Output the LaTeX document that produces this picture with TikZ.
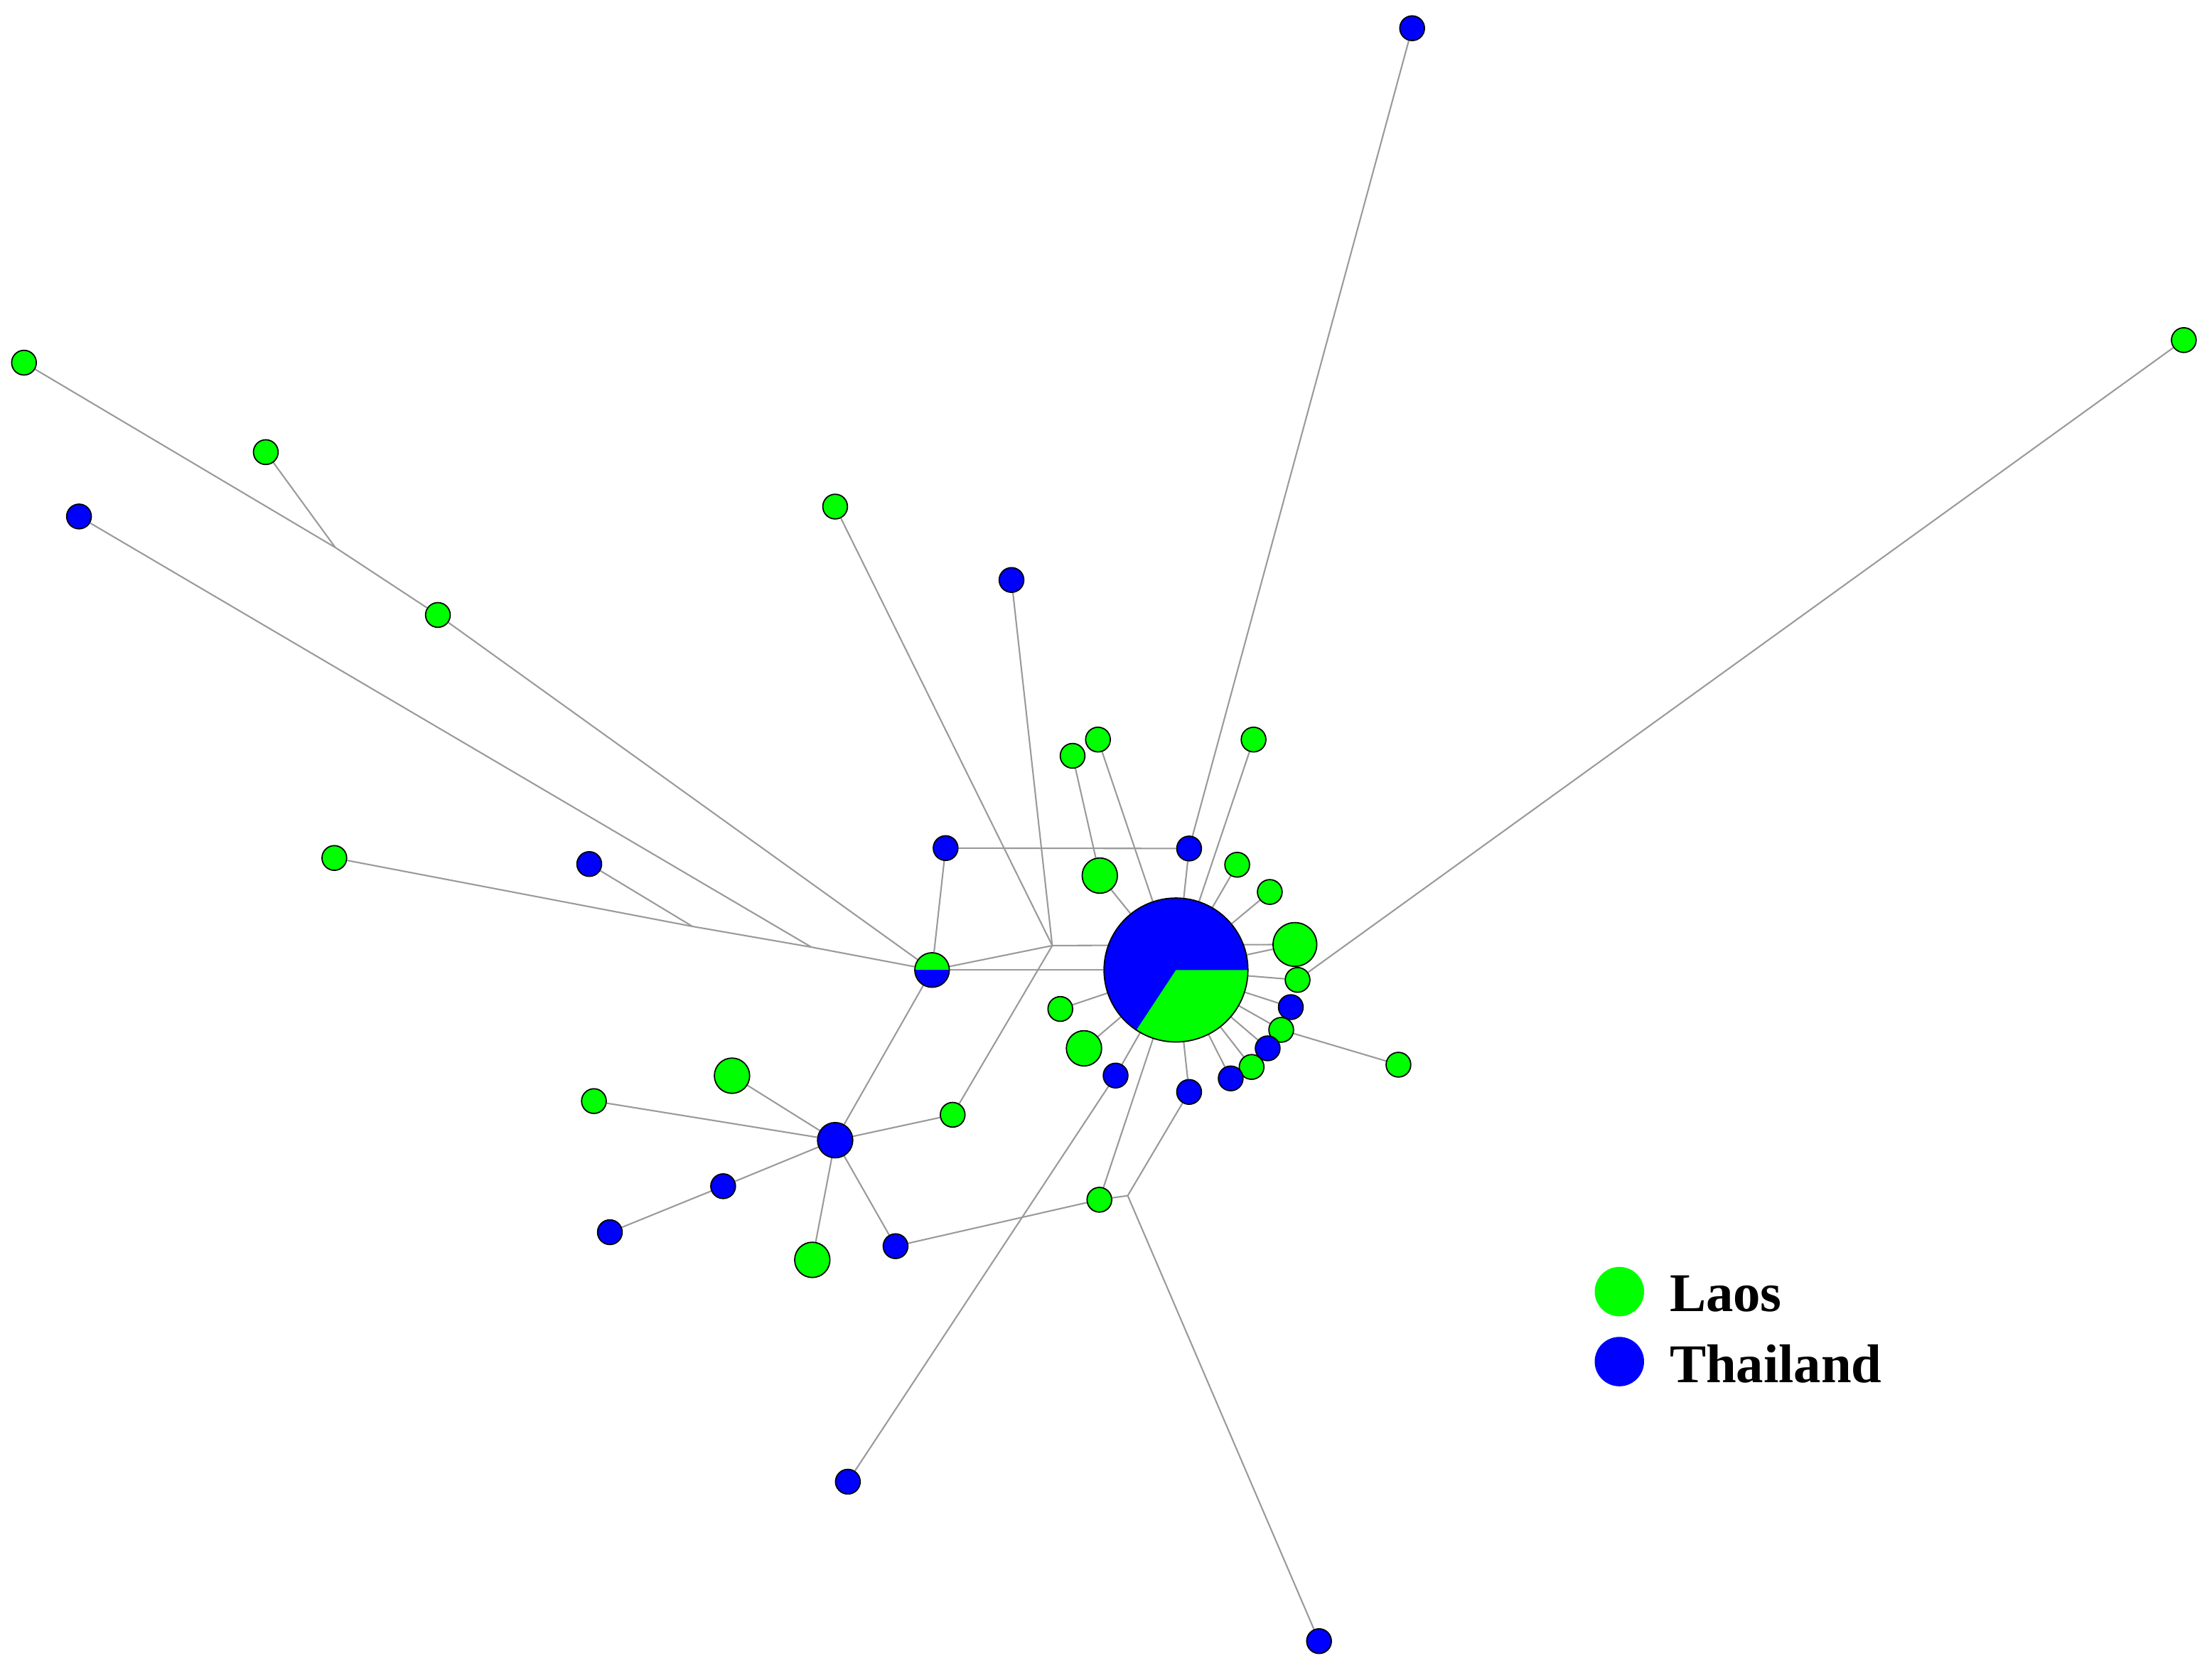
\documentclass[tikz,border=0pt]{standalone}
\usepackage{fontspec}
\setmainfont{Liberation Serif}
\usetikzlibrary{backgrounds}
\definecolor{laos}{HTML}{00FF00}
\definecolor{thai}{HTML}{0000FF}
\definecolor{lnkgray}{HTML}{9A9A9A}
\tikzset{
  hap/.style={circle, draw=black, line width=0.5pt, fill=#1, inner sep=0pt, minimum size=3.5mm},
  hapm/.style={hap=#1, minimum size=5mm},
  lnk/.style={draw=lnkgray, line width=0.6pt},
  key/.style={circle, fill=#1, inner sep=0pt, minimum size=7mm},
  keytxt/.style={anchor=base west, inner sep=0pt, font=\bfseries\fontsize{22}{26}\selectfont},
}

\begin{document}
\begin{tikzpicture}[x=0.2mm, y=-0.2mm]
  \useasboundingbox (0,0) rectangle (1568,1182);
  % central haplotype, shared by both countries
  \node[hap=thai, minimum size=20.4mm, path picture={\fill[laos] (path picture bounding box.center) -- ++(0:11mm) arc[start angle=0, end angle=-123.4, radius=11mm] -- cycle;}] (hub) at (833.6,687.4) {};
  \node[hap=laos, minimum size=4.9mm, path picture={\fill[thai] (path picture bounding box.west) rectangle (path picture bounding box.south east);}] (m29) at (660.7,687.4) {};
  \node[hapm=thai] (t34) at (592,808) {};
  % outer haplotypes
  \node[hap=thai] (t1) at (1001,20) {};
  \node[hap=laos] (l2) at (1548,241) {};
  \node[hap=laos] (l3) at (17,257) {};
  \node[hap=laos] (l4) at (188.4,320.4) {};
  \node[hap=thai] (t5) at (56,366) {};
  \node[hap=laos] (l6) at (310.4,435.8) {};
  \node[hap=laos] (l7) at (592,359) {};
  \node[hap=thai] (t8) at (717,411) {};
  \node[hap=laos] (l9) at (778.3,524.1) {};
  \node[hap=laos] (l10) at (760.3,535.6) {};
  \node[hap=laos] (l11) at (888.6,524.1) {};
  \node[hap=thai] (t12) at (670.3,601) {};
  \node[hap=thai] (t13) at (842.9,601.3) {};
  \node[hapm=laos] (l14) at (779.6,620.5) {};
  \node[hap=laos] (l15) at (877,612.8) {};
  \node[hap=laos] (l16) at (900.1,632.1) {};
  \node[hap=laos, minimum size=6.2mm] (l17) at (917.9,669.3) {};
  \node[hap=laos] (l18) at (919.8,694.4) {};
  \node[hap=thai] (t19) at (915,713.7) {};
  \node[hap=laos] (l20) at (908.2,729.8) {};
  \node[hap=thai] (t21) at (898.6,742.9) {};
  \node[hap=laos] (l22) at (887.2,756.1) {};
  \node[hap=thai] (t23) at (872.4,764.2) {};
  \node[hap=thai] (t24) at (842.9,773.8) {};
  \node[hap=thai] (t25) at (790.8,762.2) {};
  \node[hapm=laos] (l26) at (768.4,742.9) {};
  \node[hap=laos] (l27) at (751.6,715) {};
  \node[hap=laos] (l28) at (991.3,754.5) {};
  \node[hap=laos] (l30) at (237,608) {};
  \node[hap=thai] (t31) at (417.7,612.3) {};
  \node[hapm=laos] (l32) at (518.9,762.3) {};
  \node[hap=laos] (l33) at (421,780.3) {};
  \node[hap=laos] (l35) at (675.3,790) {};
  \node[hap=thai] (t36) at (512.6,840.6) {};
  \node[hap=thai] (t37) at (432.3,873.2) {};
  \node[hapm=laos] (l38) at (575.8,892.8) {};
  \node[hap=thai] (t39) at (634.8,883.1) {};
  \node[hap=laos] (l40) at (779.3,850.2) {};
  \node[hap=thai] (t41) at (601,1050) {};
  \node[hap=thai] (t42) at (935,1163) {};
  % median vectors
  \coordinate (j1) at (745.9,670.1);
  \coordinate (j2) at (575.2,671.2);
  \coordinate (j3) at (237.7,388);
  \coordinate (j4) at (490.8,656.5);
  \coordinate (j5) at (799.4,847.3);
  % legend
  \node[key=laos] (kl) at (1147.9,915.3) {};
  \node[key=thai] (kt) at (1147.9,964.9) {};
  \node[keytxt] (klt) at (1183.2,929.1) {Laos};
  \node[keytxt] (ktt) at (1183.2,979.5) {Thailand};
  \begin{scope}[on background layer]
    \draw[lnk] (t1) -- (t13); \draw[lnk] (t13) -- (hub); \draw[lnk] (t12) -- (t13); \draw[lnk] (t12) -- (m29);
    \draw[lnk] (l9) -- (hub); \draw[lnk] (l10) -- (l14); \draw[lnk] (l14) -- (hub); \draw[lnk] (l11) -- (hub);
    \draw[lnk] (l15) -- (hub); \draw[lnk] (l16) -- (hub); \draw[lnk] (hub) -- (l17); \draw[lnk] (j1) -- (l17);
    \draw[lnk] (hub) -- (l18); \draw[lnk] (l2) -- (l18); \draw[lnk] (hub) -- (t19); \draw[lnk] (hub) -- (l20);
    \draw[lnk] (hub) -- (t21); \draw[lnk] (hub) -- (l22); \draw[lnk] (hub) -- (t23); \draw[lnk] (hub) -- (t24);
    \draw[lnk] (hub) -- (t25); \draw[lnk] (hub) -- (l26); \draw[lnk] (hub) -- (l27); \draw[lnk] (l20) -- (l28);
    \draw[lnk] (hub) -- (l40); \draw[lnk] (t24) -- (j5); \draw[lnk] (j5) -- (l40); \draw[lnk] (j5) -- (t42);
    \draw[lnk] (t25) -- (t41); \draw[lnk] (m29) -- (hub); \draw[lnk] (j1) -- (m29); \draw[lnk] (l7) -- (j1);
    \draw[lnk] (t8) -- (j1); \draw[lnk] (j1) -- (l35); \draw[lnk] (m29) -- (t34); \draw[lnk] (t34) -- (l32);
    \draw[lnk] (t34) -- (l33); \draw[lnk] (t34) -- (t36); \draw[lnk] (t36) -- (t37); \draw[lnk] (t34) -- (l38);
    \draw[lnk] (t34) -- (t39); \draw[lnk] (t34) -- (l35); \draw[lnk] (t39) -- (l40);
    \draw[lnk] (l30) -- (j4); \draw[lnk] (j4) -- (j2); \draw[lnk] (j2) -- (m29); \draw[lnk] (t31) -- (j4);
    \draw[lnk] (t5) -- (j2); \draw[lnk] (l6) -- (m29); \draw[lnk] (l3) -- (j3); \draw[lnk] (j3) -- (l6); \draw[lnk] (l4) -- (j3);
  \end{scope}
\end{tikzpicture}
\end{document}
